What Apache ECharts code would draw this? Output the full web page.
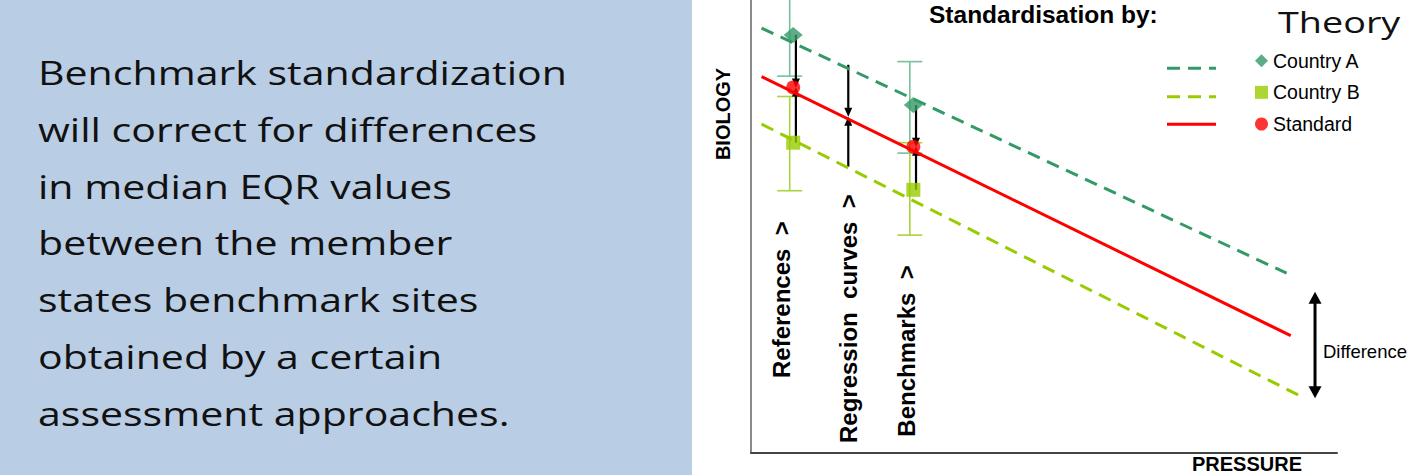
<!DOCTYPE html>
<html>
<head>
<meta charset="utf-8">
<script src="https://cdn.jsdelivr.net/npm/echarts@6/dist/echarts.min.js"></script>
<style>
html,body{margin:0;padding:0;background:#ffffff;}
#chart{width:1411px;height:475px;}
</style>
</head>
<body>
<div id="chart"></div>
<script>
// ---------- data (axis units 0..100) ----------
const xExtent = [0, 100];
const yExtent = [0, 100];
const seriesNames = ['Country A', 'Country B', 'Standard'];
const trendCountryA = [[1.8, 93.8], [91.4, 39.7]];
const trendCountryB = [[1.8, 72.6], [93.4, 12.8]];
const trendStandard = [[1.8, 83.1], [92.1, 25.9]];
const stepPositions = [7.2, 27.7];          // References, Benchmarks
const countryA = [92.3, 76.8];
const countryB = [68.5, 58.1];
const standard = [80.7, 67.6];
const errorCountryA = [[83.2, 101.4], [66.2, 86.4]];
const errorCountryB = [[57.9, 78.7], [48.1, 68.5]];
const regressionPosition = 16.6;
const regressionValues = [85.7, 74.2, 63.2]; // Country A, Standard, Country B
const differencePosition = 96.25;
const differenceRange = [35.6, 12.1];
const stepLabels = ['References\u00a0\u00a0>', 'Regression\u00a0\u00a0curves\u00a0\u00a0>', 'Benchmarks\u00a0\u00a0>'];
const slideLines = [
  'Benchmark standardization',
  'will correct for differences',
  'in median EQR values',
  'between the member',
  'states benchmark sites',
  'obtained by a certain',
  'assessment approaches.'
];

// ---------- styles ----------
const COLOR_A = '#339966';
const COLOR_B = '#99cc00';
const COLOR_STD = '#ff0000';
const ERR_A = '#76c09c';
const ERR_B = '#a8d43e';
const DASH = [13, 8];
const ARIAL = '"Liberation Sans", Arial, sans-serif';

const chart = echarts.init(document.getElementById('chart'), null, {renderer: 'svg'});

const errorItems = [];
stepPositions.forEach(function (x, i) {
  errorItems.push({value: [x, errorCountryA[i][0], errorCountryA[i][1]], color: ERR_A});
  errorItems.push({value: [x, errorCountryB[i][0], errorCountryB[i][1]], color: ERR_B});
});

const arrowItems = [];
stepPositions.forEach(function (x, i) {
  arrowItems.push({value: [x, countryA[i], standard[i]], dx: 2.7, big: false, both: false});
  arrowItems.push({value: [x, countryB[i], standard[i]], dx: 2.7, big: false, both: false});
});
arrowItems.push({value: [regressionPosition, regressionValues[0], regressionValues[1]], dx: 0, big: false, both: false});
arrowItems.push({value: [regressionPosition, regressionValues[2], regressionValues[1]], dx: 0, big: false, both: false});
arrowItems.push({value: [differencePosition, differenceRange[0], differenceRange[1]], dx: 0, big: true, both: true});

function arrowHead(x, y, dir, w, len) {
  return {
    type: 'polygon',
    shape: {points: [[x, y], [x - w / 2, y - dir * len], [x + w / 2, y - dir * len]]},
    style: {fill: '#000'}
  };
}

function renderError(params, api) {
  const it = errorItems[params.dataIndex];
  const lo = api.coord([it.value[0], it.value[1]]);
  const hi = api.coord([it.value[0], it.value[2]]);
  const x = lo[0] - 3.5;
  const hw = 12.5;
  const st = {stroke: it.color, lineWidth: 1.6};
  return {
    type: 'group',
    children: [
      {type: 'line', shape: {x1: x, y1: lo[1], x2: x, y2: hi[1]}, style: st},
      {type: 'line', shape: {x1: x - hw, y1: lo[1], x2: x + hw, y2: lo[1]}, style: st},
      {type: 'line', shape: {x1: x - hw, y1: hi[1], x2: x + hw, y2: hi[1]}, style: st}
    ]
  };
}

function renderArrow(params, api) {
  const it = arrowItems[params.dataIndex];
  const p0 = api.coord([it.value[0], it.value[1]]);
  const p1 = api.coord([it.value[0], it.value[2]]);
  const x = p0[0] + it.dx;
  const w = it.big ? 13 : 8;
  const len = it.big ? 12 : 9;
  const lw = it.big ? 3 : 2.2;
  const dir = p1[1] > p0[1] ? 1 : -1;
  const y0 = it.both ? p0[1] + dir * len * 0.8 : p0[1];
  const y1 = p1[1] - dir * len * 0.8;
  const children = [
    {type: 'line', shape: {x1: x, y1: y0, x2: x, y2: y1}, style: {stroke: '#000', lineWidth: lw}},
    arrowHead(x, p1[1], dir, w, len)
  ];
  if (it.both) children.push(arrowHead(x, p0[1], -dir, w, len));
  return {type: 'group', children: children};
}

const graphics = [
  {type: 'rect', z: -10, shape: {x: 0, y: 0, width: 692, height: 475}, style: {fill: '#b9cde5'}}
];
slideLines.forEach(function (t, i) {
  graphics.push({
    type: 'text', x: 38, y: 85 + i * 56.8 - 12.65, scaleX: 1.26,
    style: {text: t, fontFamily: '"Open Sans", sans-serif', fontSize: 32.6, fill: '#111', align: 'left', verticalAlign: 'middle'}
  });
});
graphics.push(
  {type: 'text', x: 1278, y: 22, scaleX: 1.26,
   style: {text: 'Theory', fontFamily: '"Open Sans", sans-serif', fontSize: 30, fill: '#111', align: 'left', verticalAlign: 'middle'}},
  {type: 'text', x: 929, y: 14,
   style: {text: 'Standardisation by:', fontFamily: ARIAL, fontSize: 24.5, fontWeight: 'bold', fill: '#000', align: 'left', verticalAlign: 'middle'}},
  {type: 'text', x: 1192, y: 463.5,
   style: {text: 'PRESSURE', fontFamily: ARIAL, fontSize: 20, fontWeight: 'bold', fill: '#000', align: 'left', verticalAlign: 'middle'}},
  {type: 'text', x: 723.3, y: 114, rotation: Math.PI / 2,
   style: {text: 'BIOLOGY', fontFamily: ARIAL, fontSize: 20, fontWeight: 'bold', fill: '#000', align: 'center', verticalAlign: 'middle'}},
  {type: 'text', x: 781, y: 378, rotation: Math.PI / 2,
   style: {text: stepLabels[0], fontFamily: ARIAL, fontSize: 24, fontWeight: 'bold', fill: '#000', align: 'left', verticalAlign: 'middle'}},
  {type: 'text', x: 848.7, y: 443, rotation: Math.PI / 2,
   style: {text: stepLabels[1], fontFamily: ARIAL, fontSize: 24, fontWeight: 'bold', fill: '#000', align: 'left', verticalAlign: 'middle'}},
  {type: 'text', x: 906.5, y: 436.7, rotation: Math.PI / 2,
   style: {text: stepLabels[2], fontFamily: ARIAL, fontSize: 24, fontWeight: 'bold', fill: '#000', align: 'left', verticalAlign: 'middle'}},
  {type: 'text', x: 1323, y: 351.7,
   style: {text: 'Difference', fontFamily: ARIAL, fontSize: 18.5, fill: '#000', align: 'left', verticalAlign: 'middle'}},
  {type: 'line', shape: {x1: 1167, y1: 68.3, x2: 1216, y2: 68.3}, style: {stroke: COLOR_A, lineWidth: 3, lineDash: DASH}},
  {type: 'line', shape: {x1: 1167, y1: 96.7, x2: 1216, y2: 96.7}, style: {stroke: COLOR_B, lineWidth: 3, lineDash: DASH}},
  {type: 'line', shape: {x1: 1167, y1: 124.3, x2: 1216, y2: 124.3}, style: {stroke: COLOR_STD, lineWidth: 3}}
);

const hiddenAxis = {
  type: 'value',
  axisTick: {show: false},
  axisLabel: {show: false},
  splitLine: {show: false}
};

const option = {
  animation: false,
  backgroundColor: '#ffffff',
  grid: {left: 751, right: 74, top: 0, bottom: 22, containLabel: false},
  xAxis: Object.assign({}, hiddenAxis, {
    min: xExtent[0], max: xExtent[1],
    axisLine: {show: true, lineStyle: {color: '#444', width: 2}}
  }),
  yAxis: Object.assign({}, hiddenAxis, {
    min: yExtent[0], max: yExtent[1],
    axisLine: {show: true, lineStyle: {color: '#8a8a8a', width: 2}}
  }),
  legend: {
    data: seriesNames,
    orient: 'vertical',
    left: 1255, top: 50.7,
    padding: 0,
    itemGap: 11.65,
    itemWidth: 13, itemHeight: 13,
    selectedMode: false,
    textStyle: {fontFamily: ARIAL, fontSize: 19.5, color: '#000', lineHeight: 20}
  },
  graphic: graphics,
  series: [
    {name: 'Country A trend', type: 'line', data: trendCountryA, showSymbol: false, symbol: 'none', silent: true,
     lineStyle: {color: COLOR_A, width: 3, type: DASH}},
    {name: 'Country B trend', type: 'line', data: trendCountryB, showSymbol: false, symbol: 'none', silent: true,
     lineStyle: {color: COLOR_B, width: 3, type: DASH}},
    {name: 'Standard trend', type: 'line', data: trendStandard, showSymbol: false, symbol: 'none', silent: true,
     lineStyle: {color: COLOR_STD, width: 3}},
    {name: 'Error bars', type: 'custom', renderItem: renderError, clip: false, silent: true,
     encode: {x: 0, y: [1, 2]}, data: errorItems.map(function (d) { return d.value; })},
    {name: 'Country A', type: 'scatter', symbol: 'diamond', symbolSize: [19, 16], itemStyle: {color: COLOR_A}, silent: true,
     data: stepPositions.map(function (x, i) { return [x, countryA[i]]; })},
    {name: 'Country B', type: 'scatter', symbol: 'rect', symbolSize: 14, itemStyle: {color: COLOR_B}, silent: true,
     data: stepPositions.map(function (x, i) { return [x, countryB[i]]; })},
    {name: 'Standard', type: 'scatter', symbol: 'circle', symbolSize: 14, itemStyle: {color: COLOR_STD}, silent: true,
     data: stepPositions.map(function (x, i) { return [x, standard[i]]; })},
    {name: 'Arrows', type: 'custom', renderItem: renderArrow, clip: false, silent: true,
     encode: {x: 0, y: [1, 2]}, data: arrowItems.map(function (d) { return d.value; })}
  ]
};
chart.setOption(option);
</script>
</body>
</html>
